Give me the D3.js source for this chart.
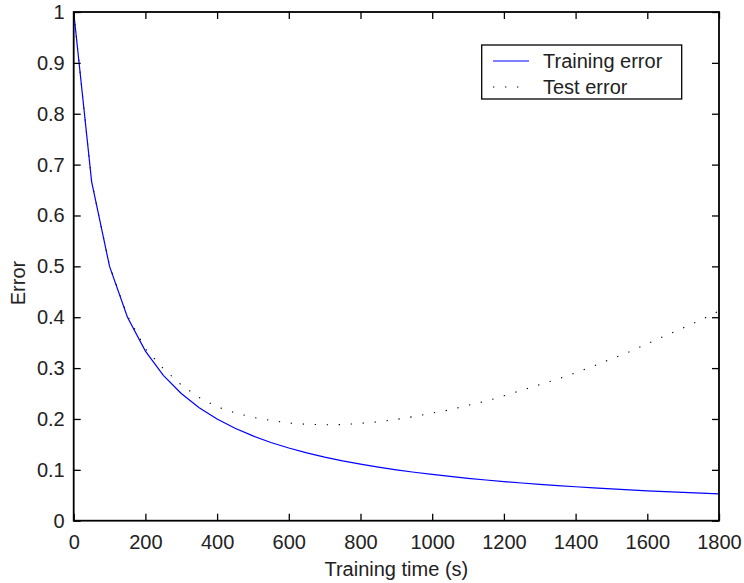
<!DOCTYPE html>
<html>
<head>
<meta charset="utf-8">
<script src="https://cdn.jsdelivr.net/npm/d3@7"></script>
<style>
  html, body { margin: 0; padding: 0; background: #fff; }
  svg text { font-family: "Liberation Sans", Arial, Helvetica, sans-serif; fill: #222; }
</style>
</head>
<body>
<svg id="chart" width="744" height="583"></svg>
<script>
// Sample times (s), every 50 s
const times = [0,50,100,150,200,250,300,350,400,450,500,550,600,650,700,750,800,850,900,
  950,1000,1050,1100,1150,1200,1250,1300,1350,1400,1450,1500,1550,1600,1650,1700,1750,1800];

const trainingError = [1,0.6667,0.5,0.4,0.3333,0.2857,0.25,0.2222,0.2,0.1818,0.1667,0.1538,
  0.1429,0.1333,0.125,0.1176,0.1111,0.1053,0.1,0.0952,0.0909,0.087,0.0833,0.08,0.0769,0.0741,
  0.0714,0.069,0.0667,0.0645,0.0625,0.0606,0.0588,0.0571,0.0556,0.0541,0.0526];

const testError = [1,0.6667,0.501,0.403,0.338,0.299,0.267,0.242,0.224,0.212,0.203,0.197,0.192,
  0.1895,0.1887,0.1888,0.1915,0.1945,0.199,0.205,0.2115,0.218,0.227,0.235,0.2455,0.2565,
  0.2675,0.2785,0.2905,0.304,0.318,0.332,0.348,0.3635,0.379,0.395,0.412];

const xTicks = [0,200,400,600,800,1000,1200,1400,1600,1800];
const yTicks = [0,0.1,0.2,0.3,0.4,0.5,0.6,0.7,0.8,0.9,1];
const seriesNames = ["Training error", "Test error"];

const svg = d3.select("#chart");
const plotLeft = 73.7, plotRight = 719, plotTop = 12, plotBottom = 520.7;

const x = d3.scaleLinear().domain([0, 1800]).range([plotLeft, plotRight]);
const y = d3.scaleLinear().domain([0, 1]).range([plotBottom, plotTop]);

const fontSize = 20;
const tickLen = 7;

// Data lines
const line = d3.line().x((d, i) => x(times[i])).y(d => y(d));

svg.append("path")
  .datum(testError)
  .attr("d", line)
  .attr("fill", "none")
  .attr("stroke", "#000")
  .attr("stroke-width", 1.1)
  .attr("stroke-dasharray", "1.3,10.7");

svg.append("path")
  .datum(trainingError)
  .attr("d", line)
  .attr("fill", "none")
  .attr("stroke", "#0000ff")
  .attr("stroke-width", 1.2);

// Axes: ticks point inward, on all four sides
const fmt = d => d3.format("")(d);
const axBottom = svg.append("g").attr("transform", `translate(0,${plotBottom})`)
  .call(d3.axisBottom(x).tickValues(xTicks).tickSize(-tickLen).tickPadding(14).tickFormat(fmt));
const axTop = svg.append("g").attr("transform", `translate(0,${plotTop})`)
  .call(d3.axisTop(x).tickValues(xTicks).tickSize(-tickLen).tickFormat(""));
const axLeft = svg.append("g").attr("transform", `translate(${plotLeft},0)`)
  .call(d3.axisLeft(y).tickValues(yTicks).tickSize(-tickLen).tickPadding(9).tickFormat(fmt));
const axRight = svg.append("g").attr("transform", `translate(${plotRight},0)`)
  .call(d3.axisRight(y).tickValues(yTicks).tickSize(-tickLen).tickFormat(""));

[axBottom, axTop, axLeft, axRight].forEach(g => {
  g.select(".domain").remove();
  g.selectAll(".tick line").attr("stroke", "#000").attr("stroke-width", 1.3);
  g.selectAll(".tick text").attr("font-size", fontSize).attr("fill", "#222")
    .attr("font-family", "Liberation Sans, Arial, sans-serif");
});
axBottom.selectAll(".tick text").attr("dy", "0.71em");

// Box
svg.append("rect")
  .attr("x", plotLeft).attr("y", plotTop)
  .attr("width", plotRight - plotLeft).attr("height", plotBottom - plotTop)
  .attr("fill", "none").attr("stroke", "#000").attr("stroke-width", 1.8);

// Axis titles
svg.append("text")
  .attr("x", (plotLeft + plotRight) / 2).attr("y", 576)
  .attr("text-anchor", "middle").attr("font-size", fontSize)
  .text("Training time (s)");

svg.append("text")
  .attr("transform", `translate(25,283) rotate(-90)`)
  .attr("text-anchor", "middle").attr("font-size", fontSize)
  .text("Error");

// Legend
const lg = svg.append("g");
lg.append("rect")
  .attr("x", 481.7).attr("y", 45).attr("width", 200).attr("height", 54)
  .attr("fill", "#fff").attr("stroke", "#000").attr("stroke-width", 1.3);
const rows = [
  { name: seriesNames[0], color: "#0000ff", dash: null, yy: 61 },
  { name: seriesNames[1], color: "#000", dash: "1.3,10.7", yy: 87 }
];
rows.forEach(r => {
  lg.append("line")
    .attr("x1", 493).attr("x2", 529).attr("y1", r.yy).attr("y2", r.yy)
    .attr("stroke", r.color).attr("stroke-width", r.dash ? 1.1 : 1.2)
    .attr("stroke-dasharray", r.dash);
  lg.append("text")
    .attr("x", 543).attr("y", r.yy + 7)
    .attr("font-size", fontSize)
    .text(r.name);
});
</script>
</body>
</html>
